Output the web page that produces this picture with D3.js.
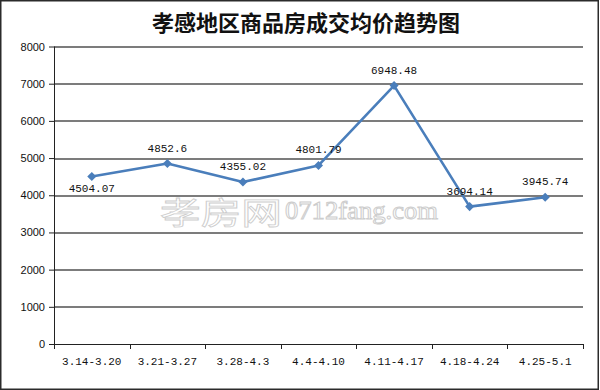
<!DOCTYPE html>
<html>
<head>
<meta charset="utf-8">
<script src="https://cdn.jsdelivr.net/npm/d3@7"></script>
<style>
  body { margin: 0; background: #fff; }
  svg { display: block; }
</style>
</head>
<body>
<div id="chart"></div>
<script>
// Chart data
var titleText = "孝感地区商品房成交均价趋势图";
var weeks = ["3.14-3.20", "3.21-3.27", "3.28-4.3", "4.4-4.10", "4.11-4.17", "4.18-4.24", "4.25-5.1"];
var avgPrice = [4504.07, 4852.6, 4355.02, 4801.79, 6948.48, 3694.14, 3945.74];
var priceLabels = ["4504.07", "4852.6", "4355.02", "4801.79", "6948.48", "3694.14", "3945.74"];
var yTicks = [0, 1000, 2000, 3000, 4000, 5000, 6000, 7000, 8000];

var W = 600, H = 390;
var margin = { left: 54, right: 17, top: 46.5, bottom: 46 };
var width = W - margin.left - margin.right;
var height = H - margin.top - margin.bottom;
var lineColor = "#4a7ebb";
var monoFont = "'Liberation Mono', 'DejaVu Sans Mono', monospace";

var root = d3.select("#chart").append("svg")
    .attr("width", W)
    .attr("height", H);

// outer frame
root.append("rect")
    .attr("x", 0.75).attr("y", 0.75)
    .attr("width", W - 2.5).attr("height", H - 1.5)
    .attr("fill", "#fff")
    .attr("stroke", "#2b2b2b")
    .attr("stroke-width", 1.5);

// title
root.append("text")
    .attr("x", 306)
    .attr("y", 31)
    .attr("text-anchor", "middle")
    .attr("font-family", "'Noto Sans CJK SC', sans-serif")
    .attr("font-weight", "bold")
    .style("font-size", "22px")
    .attr("fill", "#111")
    .text(titleText);

var svg = root.append("g")
    .attr("transform", "translate(" + margin.left + "," + margin.top + ")");

var x = d3.scaleBand().domain(weeks).range([0, width]);
var y = d3.scaleLinear().domain([0, 8000]).range([height, 0]);

// watermark (hollow letters)
var wm = svg.append("g")
    .attr("fill", "#fff")
    .attr("stroke", "#cdcdcd")
    .attr("stroke-width", 1);
wm.append("text")
    .attr("transform", "translate(106," + (y(4000) + 29) + ") scale(1,0.8)")
    .attr("font-family", "'Noto Sans CJK SC', sans-serif")
    .style("font-size", "38px")
    .attr("textLength", 122)
    .attr("lengthAdjust", "spacingAndGlyphs")
    .text("孝房网");
wm.append("text")
    .attr("x", 231)
    .attr("y", y(4000) + 24)
    .attr("font-family", "'Liberation Serif', serif")
    .style("font-size", "25px")
    .attr("textLength", 153)
    .attr("lengthAdjust", "spacingAndGlyphs")
    .text("0712fang.com");

// gridlines
svg.append("g")
    .selectAll("line")
    .data(yTicks.slice(1))
    .enter()
    .append("line")
    .attr("x1", 0)
    .attr("x2", width)
    .attr("y1", function (d) { return Math.round(y(d)) + 0.5; })
    .attr("y2", function (d) { return Math.round(y(d)) + 0.5; })
    .attr("stroke", "#505050")
    .attr("stroke-width", 1.3);

// y axis
var yAxis = svg.append("g")
    .call(d3.axisLeft(y).tickValues(yTicks).tickSize(5).tickPadding(4).tickFormat(d3.format("d")));
yAxis.selectAll("text")
    .attr("font-family", "'Liberation Sans', Arial, sans-serif")
    .style("font-size", "11px")
    .attr("fill", "#111");
yAxis.selectAll("line, path").attr("stroke", "#222");
yAxis.select(".domain").attr("d", "M0.5," + height + "V0");

// x axis with ticks at category boundaries
var xAxis = svg.append("g")
    .attr("transform", "translate(0," + height + ")");
xAxis.append("line")
    .attr("x1", 0).attr("x2", width)
    .attr("y1", 0.5).attr("y2", 0.5)
    .attr("stroke", "#222");
var bounds = weeks.map(function (w) { return x(w); }).concat([width]);
xAxis.selectAll(".xtick")
    .data(bounds)
    .enter()
    .append("line")
    .attr("class", "xtick")
    .attr("x1", function (d) { return Math.round(d) + 0.5; })
    .attr("x2", function (d) { return Math.round(d) + 0.5; })
    .attr("y1", 0)
    .attr("y2", 5)
    .attr("stroke", "#222");
xAxis.selectAll(".xlabel")
    .data(weeks)
    .enter()
    .append("text")
    .attr("class", "xlabel")
    .attr("x", function (d) { return x(d) + x.bandwidth() / 2; })
    .attr("y", 21)
    .attr("text-anchor", "middle")
    .attr("font-family", monoFont)
    .style("font-size", "11px")
    .attr("fill", "#111")
    .text(function (d) { return d; });

// price line
var pts = weeks.map(function (w, i) { return { w: w, v: avgPrice[i], label: priceLabels[i] }; });
var cx = function (d) { return x(d.w) + x.bandwidth() / 2; };

svg.append("path")
    .datum(pts)
    .attr("fill", "none")
    .attr("stroke", lineColor)
    .attr("stroke-width", 2.6)
    .attr("stroke-linejoin", "round")
    .attr("d", d3.line().x(cx).y(function (d) { return y(d.v); }));

svg.append("g")
    .selectAll("path")
    .data(pts)
    .enter()
    .append("path")
    .attr("transform", function (d) { return "translate(" + cx(d) + "," + y(d.v) + ")"; })
    .attr("d", d3.symbol().type(d3.symbolDiamond2).size(52))
    .attr("fill", lineColor);

// data labels (first one sits under its point)
svg.append("g")
    .selectAll("text")
    .data(pts)
    .enter()
    .append("text")
    .attr("x", function (d) { return cx(d); })
    .attr("y", function (d, i) { return y(d.v) + (i === 0 ? 15 : -12); })
    .attr("text-anchor", "middle")
    .attr("font-family", monoFont)
    .style("font-size", "11px")
    .attr("fill", "#111")
    .text(function (d) { return d.label; });
</script>
</body>
</html>
